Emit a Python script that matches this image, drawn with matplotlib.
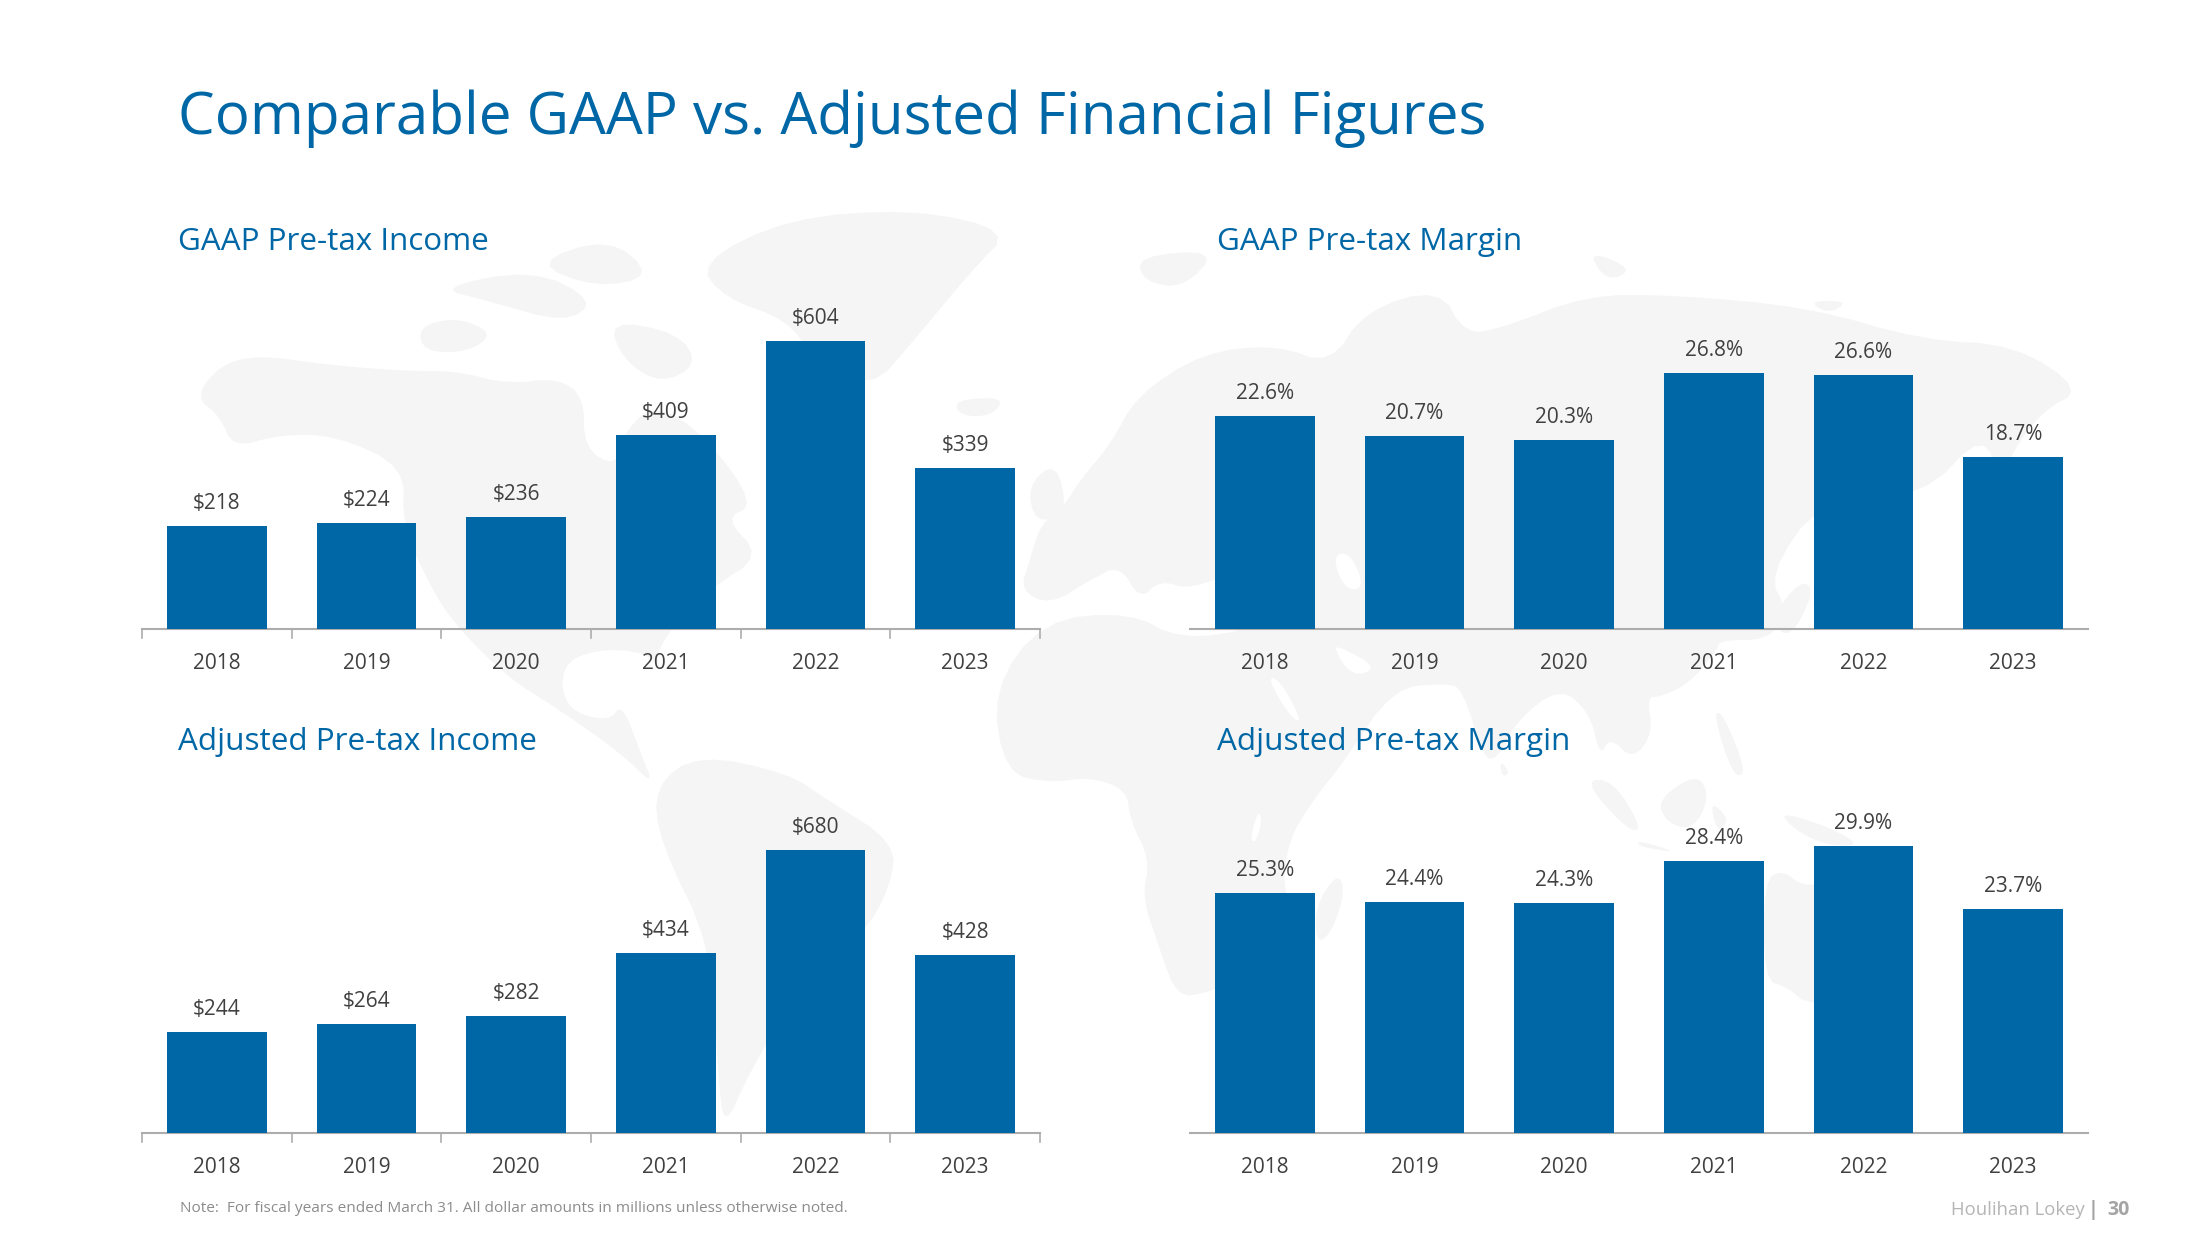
import matplotlib
matplotlib.use("Agg")
import matplotlib.pyplot as plt
from matplotlib.patches import Polygon

years = ["2018", "2019", "2020", "2021", "2022", "2023"]
gaap_income = [218, 224, 236, 409, 604, 339]
gaap_margin = [22.6, 20.7, 20.3, 26.8, 26.6, 18.7]
adj_income = [244, 264, 282, 434, 680, 428]
adj_margin = [25.3, 24.4, 24.3, 28.4, 29.9, 23.7]

BLUE = "#0067A6"
TEXT = "#404040"
AXIS = "#ADADAD"
MAP = "#F5F5F5"
FONT = "Open Sans"
W, H = 2200, 1250

# rough outline of the faint world map behind the charts, in slide pixels
land = [
    # eurasia and africa
    [(1020, 590), (1030, 560), (1040, 525), (1065, 505), (1080, 480), (1110, 445), (1137, 395), (1204, 352),
     (1278, 345), (1330, 365), (1365, 310), (1440, 288), (1465, 335), (1505, 327), (1587, 295), (1674, 295),
     (1808, 307), (1922, 340), (2016, 345), (2083, 390), (2043, 410), (2010, 455), (2000, 490), (1985, 430),
     (1922, 498), (1822, 498), (1768, 575), (1788, 612), (1768, 640), (1720, 640), (1717, 650), (1690, 683),
     (1660, 697), (1647, 697), (1653, 733), (1633, 760), (1610, 737), (1600, 757), (1590, 713), (1560, 687),
     (1517, 720), (1497, 760), (1483, 757), (1463, 690), (1447, 683), (1393, 688), (1343, 763), (1313, 800),
     (1287, 843), (1283, 900), (1317, 947), (1257, 973), (1207, 993), (1177, 997), (1160, 950), (1142, 897),
     (1150, 860), (1130, 820), (1127, 790), (1090, 777), (1050, 783), (1005, 773), (992, 690), (1043, 620),
     (1130, 612), (1180, 640), (1260, 628), (1270, 590), (1250, 565), (1190, 590), (1160, 580), (1140, 600),
     (1120, 565), (1090, 580), (1050, 605)],
    # north and central america
    [(195, 397), (220, 365), (258, 355), (329, 365), (405, 371), (456, 371), (507, 384), (558, 378), (584, 397),
     (584, 448), (616, 467), (622, 435), (654, 403), (705, 435), (756, 505), (724, 518), (762, 556), (711, 588),
     (673, 626), (654, 658), (667, 677), (647, 652), (596, 649), (561, 665), (565, 709), (609, 722), (622, 703),
     (641, 754), (654, 786), (622, 754), (558, 709), (507, 677), (456, 626), (431, 588), (402, 524), (405, 467),
     (335, 435), (278, 435), (233, 448), (220, 416)],
    # south america
    [(654, 786), (698, 754), (788, 773), (826, 799), (896, 843), (890, 888), (864, 933), (788, 1009), (749, 1073),
     (724, 1130), (718, 1073), (711, 945), (660, 843)],
    # greenland, iceland, uk
    [(698, 263), (788, 218), (915, 209), (1011, 231), (973, 269), (915, 339), (871, 390), (813, 359), (788, 320),
     (724, 298)],
    [(954, 400), (1005, 397), (992, 416), (960, 416)],
    [(1027, 486), (1056, 461), (1068, 512), (1036, 524)],
    # arctic islands
    [(418, 327), (456, 317), (494, 333), (469, 352), (424, 352)],
    [(437, 288), (533, 269), (596, 301), (565, 323), (488, 301)],
    [(609, 320), (679, 333), (698, 365), (660, 384), (622, 359)],
    [(533, 263), (609, 237), (654, 276), (596, 288)],
    [(1137, 256), (1218, 250), (1184, 288), (1144, 282)],
    [(1808, 301), (1849, 301), (1829, 314)],
    [(1587, 250), (1634, 269), (1607, 282)],
    # japan, philippines, indonesia, australia
    [(1770, 620), (1800, 580), (1815, 590), (1790, 640)],
    [(1713, 713), (1723, 713), (1747, 773), (1733, 777)],
    [(1657, 800), (1697, 773), (1710, 797), (1693, 830), (1667, 823)],
    [(1583, 780), (1613, 780), (1643, 830), (1627, 830)],
    [(1637, 840), (1680, 853), (1640, 847)],
    [(1710, 800), (1730, 820), (1717, 833)],
    [(1773, 810), (1830, 827), (1863, 847), (1813, 843)],
    [(1764, 880), (1783, 870), (1803, 887), (1837, 880), (1903, 907), (1914, 957), (1903, 990), (1810, 1007),
     (1787, 987), (1764, 980)],
    # sri lanka, madagascar
    [(1500, 760), (1510, 773), (1502, 777)],
    [(1337, 873), (1345, 890), (1333, 930), (1317, 945), (1315, 907)],
]
seas = [
    [(1267, 677), (1280, 680), (1303, 723), (1290, 717)],
    [(1333, 647), (1343, 648), (1378, 668), (1352, 677)],
    [(1332, 556), (1350, 552), (1365, 588), (1345, 590)],
    [(1250, 840), (1258, 810), (1262, 820), (1256, 842)],
]

plt.rcParams["font.family"] = [FONT, "DejaVu Sans"]

fig = plt.figure(figsize=(22, 12.5), dpi=100, facecolor="white")


def soften(shape, rounds=2):
    # cut the corners so the outlines don't look like straight facets
    for _ in range(rounds):
        out = []
        for (x0, y0), (x1, y1) in zip(shape, shape[1:] + shape[:1]):
            out.append((0.75 * x0 + 0.25 * x1, 0.75 * y0 + 0.25 * y1))
            out.append((0.25 * x0 + 0.75 * x1, 0.25 * y0 + 0.75 * y1))
        shape = out
    return shape


bg = fig.add_axes([0, 0, 1, 1], facecolor="white", zorder=0)
bg.set_xlim(0, W)
bg.set_ylim(H, 0)
bg.axis("off")
for shape in land:
    bg.add_patch(Polygon(soften(shape), closed=True, facecolor=MAP, edgecolor="none"))
for shape in seas:
    bg.add_patch(Polygon(soften(shape), closed=True, facecolor="white", edgecolor="none"))


def make_axes(x0, base_y, top_y, width=898):
    return fig.add_axes([x0 / W, 1 - base_y / H, width / W, (base_y - top_y) / H], facecolor="none", zorder=1)


def bars(ax, values, ymin, per_px, fmt, ticks, label_gap=12):
    xs = range(len(values))
    ax.bar(xs, values, width=0.667, color=BLUE, zorder=3)
    ax.set_xlim(-0.5, 5.5)
    height_px = ax.get_position().height * H
    ax.set_ylim(ymin, ymin + height_px * per_px)
    for i, v in zip(xs, values):
        ax.annotate(fmt.format(v), (i, v), xytext=(0, label_gap), textcoords="offset pixels",
                    ha="center", va="bottom", fontsize=15, color=TEXT)
    for s in ["top", "left", "right"]:
        ax.spines[s].set_visible(False)
    ax.spines["bottom"].set_color(AXIS)
    ax.spines["bottom"].set_linewidth(1.5)
    ax.set_yticks([])
    ax.set_xticks(list(xs))
    ax.set_xticklabels(years, fontsize=15, color=TEXT)
    ax.tick_params(axis="x", length=0, pad=17)
    if ticks:
        for e in [i - 0.5 for i in range(7)]:
            ax.plot([e, e], [0, -9 / height_px], color=AXIS, lw=1.2,
                    transform=ax.get_xaxis_transform(), clip_on=False)


ax1 = make_axes(142, 629, 290)
bars(ax1, gaap_income, 3, 1 / 0.479, "${:.0f}", True)
ax2 = make_axes(1190, 629, 290)
bars(ax2, gaap_margin, 2.1, 1 / 10.37, "{:.1f}%", False)
ax3 = make_axes(142, 1133, 790)
bars(ax3, adj_income, 2, 1 / 0.417, "${:.0f}", True)
ax4 = make_axes(1190, 1133, 790)
bars(ax4, adj_margin, 2, 1 / 10.3, "{:.1f}%", False)

fig.text(178 / W, 1 - 119 / H, "Comparable GAAP vs. Adjusted Financial Figures", fontsize=42, color=BLUE,
         va="center", ha="left")
for x, y, s in [(178, 242, "GAAP Pre-tax Income"), (1217, 242, "GAAP Pre-tax Margin"),
                (178, 742, "Adjusted Pre-tax Income"), (1217, 742, "Adjusted Pre-tax Margin")]:
    fig.text(x / W, 1 - y / H, s, fontsize=22.6, color=BLUE, va="center", ha="left")

fig.text(180 / W, 1 - 1209 / H, "Note:  For fiscal years ended March 31. All dollar amounts in millions unless otherwise noted.",
         fontsize=11.1, color="#8C8C8C", va="center", ha="left")
fig.text(2085 / W, 1 - 1210 / H, "Houlihan Lokey", fontsize=13.3, color="#B5B5B5", va="center", ha="right")
fig.text(2099 / W, 1 - 1210 / H, "|", fontsize=14, color="#A5A5A5", va="center", ha="right", fontweight="bold")
fig.text(2130 / W, 1 - 1210 / H, "30", fontsize=14, color="#A5A5A5", va="center", ha="right", fontweight="bold")

fig.savefig("out.png", dpi=100)
